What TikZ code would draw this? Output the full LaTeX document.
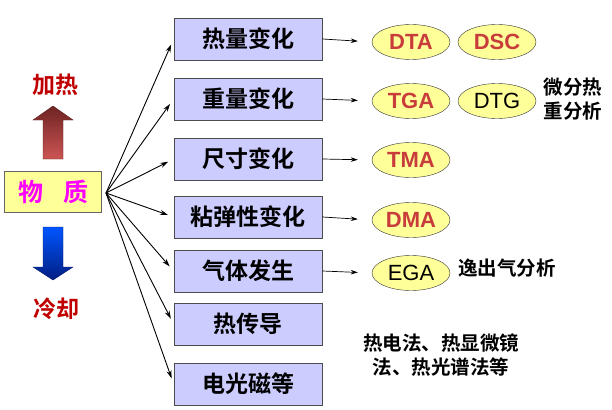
\documentclass[tikz,border=0pt]{standalone}
\usepackage{fontspec}
\setmainfont{Liberation Sans}
\newfontfamily\cjk{Noto Sans CJK SC}[BoldFont={Noto Sans CJK SC Bold}]
\usetikzlibrary{shapes.geometric,arrows.meta}

\definecolor{propfill}{RGB}{204,204,255}
\definecolor{techfill}{RGB}{255,255,153}
\definecolor{techred}{RGB}{200,60,60}
\definecolor{heatred}{RGB}{192,0,0}
\definecolor{matpink}{RGB}{255,0,255}

\tikzset{
  prop/.style={draw=black!70, fill=propfill, minimum width=148pt, minimum height=42pt,
    line width=0.8pt, font=\cjk\bfseries\fontsize{23}{23}\selectfont},
  tech/.style={ellipse, draw=black!80, fill=techfill, minimum width=78pt, minimum height=35pt,
    inner sep=0pt, text=techred, font=\bfseries\fontsize{22}{22}\selectfont},
  plaintech/.style={tech, text=black, font=\fontsize{22}{22}\selectfont},
  note/.style={align=left, font=\cjk\bfseries\fontsize{19.5}{24}\selectfont},
  fan/.style={-{Stealth[length=8pt,width=5pt]}, line width=0.9pt, shorten >=6pt},
  link/.style={-{Stealth[length=7pt,width=4.5pt]}, line width=0.7pt, shorten >=14pt}
}

\begin{document}
\begin{tikzpicture}[x=1pt, y=-1pt]
  \useasboundingbox (0,0) rectangle (612,409);

  % substance and heating / cooling
  \node[draw=black!60, fill=techfill, minimum width=97pt, minimum height=41pt,
    text=matpink, font=\cjk\bfseries\fontsize{25}{25}\selectfont] (mat) at (53,192) {物\hspace{0.8em}质};
  \node[text=heatred, font=\cjk\bfseries\fontsize{23}{23}\selectfont] (heat) at (55,85) {加热};
  \node[text=heatred, font=\cjk\bfseries\fontsize{23}{23}\selectfont] (cool) at (56,309) {冷却};
  \shade[top color={rgb,255:red,110;green,35;blue,35}, bottom color={rgb,255:red,205;green,85;blue,85},
    draw={rgb,255:red,90;green,30;blue,30}]
    (43,159) -- (43,120) -- (33,120) -- (53,106) -- (73,120) -- (63,120) -- (63,159) -- cycle;
  \shade[top color={rgb,255:red,0;green,85;blue,255}, bottom color={rgb,255:red,0;green,30;blue,130},
    draw={rgb,255:red,0;green,25;blue,110}]
    (43,227) -- (43,267) -- (33,267) -- (53,280) -- (73,267) -- (63,267) -- (63,227) -- cycle;

  % properties
  \node[prop] (p1) at (248,39) {热量变化};
  \node[prop] (p2) at (248,99) {重量变化};
  \node[prop] (p3) at (248,159) {尺寸变化};
  \node[prop] (p4) at (248,217) {粘弹性变化};
  \node[prop] (p5) at (248,271) {气体发生};
  \node[prop] (p6) at (248,324) {热传导};
  \node[prop] (p7) at (248,384) {电光磁等};

  \coordinate (fanroot) at (106,193);
  \draw[fan] (fanroot) -- (p1.west);
  \draw[fan] (fanroot) -- (p2.west);
  \draw[fan] (fanroot) -- (p3.west);
  \draw[fan] (fanroot) -- (p4.west);
  \draw[fan] (fanroot) -- (p5.west);
  \draw[fan] (fanroot) -- (p6.west);
  \draw[fan] (fanroot) -- (p7.west);

  % techniques
  \node[tech] (dta) at (411,42) {DTA};
  \node[tech] (dsc) at (497,42) {DSC};
  \node[tech] (tga) at (411,101) {TGA};
  \node[plaintech] (dtg) at (497,101) {DTG};
  \node[tech] (tma) at (411,160) {TMA};
  \node[tech] (dma) at (411,220) {DMA};
  \node[plaintech] (ega) at (411,273) {EGA};

  \draw[link] (p1.east) -- (dta.west);
  \draw[link] (p2.east) -- (tga.west);
  \draw[link] (p3.east) -- (tma.west);
  \draw[link] (p4.east) -- (dma.west);
  \draw[link] (p5.east) -- (ega.west);

  \node[note] (dtgnote) at (573,99) {微分热\\重分析};
  \node[note] (eganote) at (507,268) {逸出气分析};
  \node[note, align=center] (othernote) at (441,355) {热电法、热显微镜\\法、热光谱法等};
\end{tikzpicture}
\end{document}
